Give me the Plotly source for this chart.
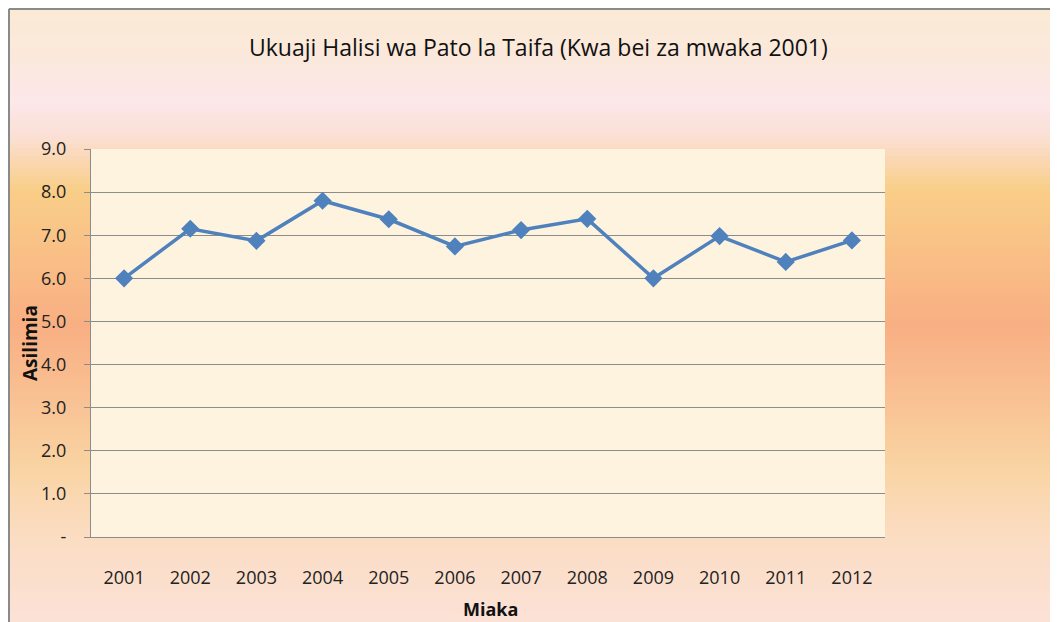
import plotly.graph_objects as go

years = ["2001", "2002", "2003", "2004", "2005", "2006", "2007", "2008", "2009", "2010", "2011", "2012"]
growth = [6.0, 7.15, 6.87, 7.8, 7.37, 6.74, 7.12, 7.38, 6.0, 6.98, 6.38, 6.88]
y_ticks = [0, 1, 2, 3, 4, 5, 6, 7, 8, 9]
y_ticktext = ["-", "1.0", "2.0", "3.0", "4.0", "5.0", "6.0", "7.0", "8.0", "9.0"]

W, H = 1058, 622
OFF = 8  # page offset of the figure inside the browser window
L, R, T, B = 91 - OFF, 885 - OFF, 149 - OFF, 537 - OFF

def px_x(px):
    return (px - OFF - L) / (R - L)

def px_y(py):
    return (B - (py - OFF)) / (B - T)

# background gradient stops (window pixel y, rgb)
stops = [
    (8, (250, 234, 212)),
    (60, (251, 232, 220)),
    (100, (252, 231, 234)),
    (135, (251, 224, 214)),
    (190, (249, 206, 136)),
    (260, (249, 190, 134)),
    (325, (248, 175, 131)),
    (420, (249, 199, 152)),
    (470, (249, 212, 164)),
    (540, (251, 221, 196)),
    (640, (252, 226, 218)),
]

def color_at(py):
    for (y0, c0), (y1, c1) in zip(stops[:-1], stops[1:]):
        if y0 <= py <= y1:
            t = (py - y0) / (y1 - y0)
            return "rgb(%d,%d,%d)" % tuple(round(a + (b - a) * t) for a, b in zip(c0, c1))
    return "rgb(%d,%d,%d)" % stops[-1][1]

shapes = []
step = 4
py = 8
while py < H + OFF:
    shapes.append(dict(type="rect", xref="paper", yref="paper", layer="below",
                       x0=px_x(8), x1=px_x(W + 20), y0=px_y(py), y1=px_y(py + step + 1),
                       fillcolor=color_at(py + step / 2), line=dict(width=0)))
    py += step
# plot area background
shapes.append(dict(type="rect", xref="paper", yref="paper", layer="below",
                   x0=0, x1=1, y0=0, y1=1, fillcolor="#FDF3DF", line=dict(width=0)))
# chart border
shapes.append(dict(type="line", xref="paper", yref="paper", x0=px_x(9), x1=px_x(W + 20),
                   y0=px_y(9), y1=px_y(9), line=dict(color="#8a8a8a", width=2)))
shapes.append(dict(type="line", xref="paper", yref="paper", x0=px_x(9), x1=px_x(9),
                   y0=px_y(9), y1=px_y(H + 20), line=dict(color="#8a8a8a", width=2)))

fig = go.Figure()
fig.add_trace(go.Scatter(
    x=years, y=growth, mode="lines+markers",
    line=dict(color="#4F81BD", width=3.5),
    marker=dict(symbol="diamond", size=14, color="#4F81BD"),
    showlegend=False, cliponaxis=False,
))

fam = "Open Sans, sans-serif"

fig.update_layout(
    width=W, height=H,
    margin=dict(l=L, r=W - R, t=T, b=H - B),
    paper_bgcolor="white",
    plot_bgcolor="rgba(0,0,0,0)",
    shapes=shapes,
    font=dict(family=fam, color="#222222"),
    xaxis=dict(
        type="category", range=[-0.5, 11.5], showgrid=False, zeroline=False,
        showline=True, linecolor="#8c8c8c", linewidth=1.2,
        ticks="", tickfont=dict(size=18, family=fam, color="#222"),
        ticklabelstandoff=24,
    ),
    yaxis=dict(
        range=[0, 9], tickvals=y_ticks, ticktext=y_ticktext,
        showgrid=True, gridcolor="#8c8c8c", gridwidth=1.2, zeroline=False,
        showline=True, linecolor="#8c8c8c", linewidth=1.2,
        ticks="outside", ticklen=6, tickcolor="#8c8c8c",
        tickfont=dict(size=18, family=fam, color="#222"),
        ticklabelstandoff=14,
    ),
    annotations=[
        dict(text="Ukuaji Halisi wa Pato la Taifa (Kwa bei za mwaka 2001)", xref="paper", yref="paper",
             x=px_x(538), y=px_y(47), showarrow=False, xanchor="center", yanchor="middle",
             font=dict(size=23, family=fam, color="#111")),
        dict(text="<b>Asilimia</b>", xref="paper", yref="paper", textangle=-90,
             x=px_x(30), y=px_y(343), showarrow=False, xanchor="center", yanchor="middle",
             font=dict(size=19, family=fam, color="#111")),
        dict(text="<b>Miaka</b>", xref="paper", yref="paper",
             x=px_x(490), y=px_y(609), showarrow=False, xanchor="center", yanchor="middle",
             font=dict(size=18, family=fam, color="#111")),
    ],
)

fig.write_html("out.html")
